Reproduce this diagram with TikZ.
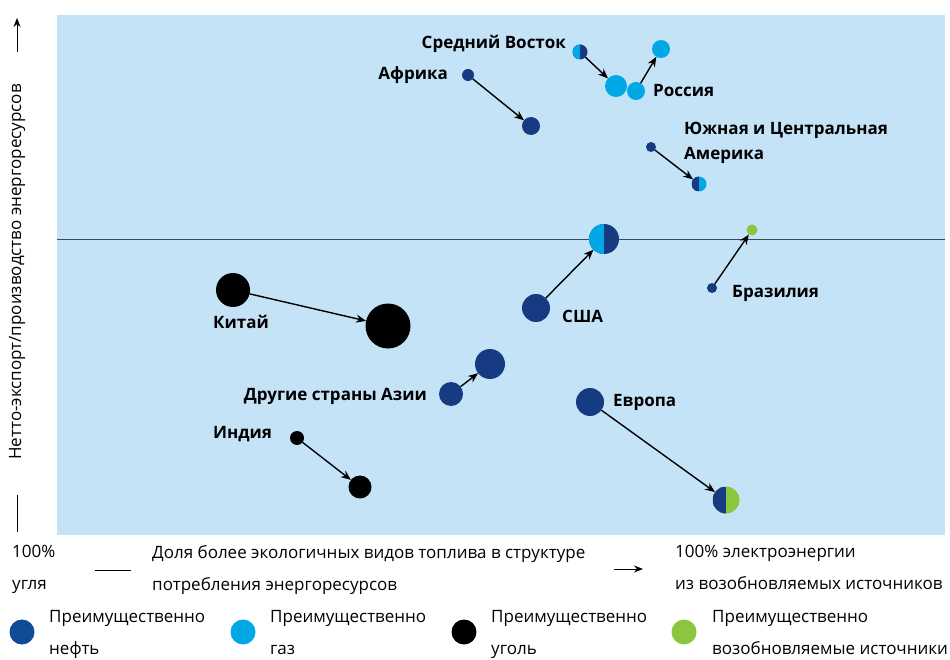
\documentclass[tikz,border=0pt]{standalone}
\usepackage{fontspec}
\setmainfont{Open Sans}
\usetikzlibrary{arrows.meta}
\definecolor{bgblue}{HTML}{C5E3F6}
\definecolor{navy}{HTML}{163B82}
\definecolor{lnavy}{HTML}{0E4C96}
\definecolor{lblue}{HTML}{00A9E6}
\definecolor{lgreen}{HTML}{8CC63F}
\definecolor{axisgray}{HTML}{3A4A5A}
\tikzset{
  dot/.style={circle, inner sep=0pt, outer sep=0pt, minimum size=#1},
  half/.style 2 args={fill=#2, path picture={\fill[#1] (path picture bounding box.north west) rectangle (path picture bounding box.south);}},
  arr/.style={-{Stealth[length=10pt,width=8pt]}, line width=1.4pt, black},
  lab/.style={font=\bfseries\fontsize{17}{20}\selectfont, text=black, inner sep=0pt},
  leg/.style={font=\fontsize{17}{32}\selectfont, text=black, inner sep=0pt, align=left},
}
\begin{document}
\begin{tikzpicture}[x=1pt,y=-1pt]
\useasboundingbox (0,0) rectangle (950,660);
\fill[bgblue] (57,15) rectangle (945,535);
\draw[axisgray, line width=0.9pt] (57,239) -- (945,239);
% y axis
\coordinate (ya1) at (17,52);
\coordinate (ya2) at (17,18);
\draw[-{Stealth[length=9pt,width=7pt]}, line width=0.9pt] (ya1) -- (ya2);
\coordinate (yb1) at (17,495);
\coordinate (yb2) at (17,532);
\draw[line width=0.9pt] (yb1) -- (yb2);
\node[leg, rotate=90, font=\fontsize{17}{20}\selectfont] (ylab) at (17,272) {Нетто-экспорт/производство энергоресурсов};
% Middle East / Russia
\node[dot=15pt, half={lblue}{navy}] (me1) at (580,52) {};
\node[dot=22pt, fill=lblue] (me2) at (616,86) {};
\node[dot=18pt, fill=lblue] (ru1) at (636,91) {};
\node[dot=18pt, fill=lblue] (ru2) at (661,49) {};
\draw[arr] (me1) -- (me2);
\draw[arr] (ru1) -- (ru2);
\node[lab, anchor=east] (meL) at (566,44) {Средний Восток};
\node[lab, anchor=west] (ruL) at (653,91) {Россия};
% Africa
\node[dot=12pt, fill=navy] (af1) at (468,75) {};
\node[dot=18pt, fill=navy] (af2) at (531,126) {};
\draw[arr] (af1) -- (af2);
\node[lab, anchor=east] (afL) at (448,75) {Африка};
% South America
\node[dot=10pt, fill=navy] (sa1) at (651,147) {};
\node[dot=15pt, half={navy}{lblue}] (sa2) at (699,184) {};
\draw[arr] (sa1) -- (sa2);
\node[lab, anchor=west, align=left, font=\bfseries\fontsize{17}{25}\selectfont] (saL) at (684,143) {Южная и Центральная\\Америка};
% USA
\node[dot=28pt, fill=navy] (us1) at (536,308) {};
\node[dot=30pt, half={lblue}{navy}] (us2) at (604,239) {};
\draw[arr] (us1) -- (us2);
\node[lab, anchor=west] (usL) at (562,316) {США};
% Brazil
\node[dot=10pt, fill=navy] (br1) at (712,288) {};
\node[dot=11pt, fill=lgreen] (br2) at (752,230) {};
\draw[arr] (br1) -- (br2);
\node[lab, anchor=west] (brL) at (732,293) {Бразилия};
% China
\node[dot=34pt, fill=black] (cn1) at (233,290) {};
\node[dot=45pt, fill=black] (cn2) at (388,326) {};
\draw[arr] (cn1) -- (cn2);
\node[lab, anchor=west] (cnL) at (213,322) {Китай};
% Other Asia
\node[dot=24pt, fill=navy] (oa1) at (451,394) {};
\node[dot=30pt, fill=navy] (oa2) at (490,364) {};
\draw[arr] (oa1) -- (oa2);
\node[lab, anchor=east] (oaL) at (427,396) {Другие страны Азии};
% India
\node[dot=14pt, fill=black] (in1) at (297,438) {};
\node[dot=23pt, fill=black] (in2) at (360,487) {};
\draw[arr] (in1) -- (in2);
\node[lab, anchor=west] (inL) at (213,434) {Индия};
% Europe
\node[dot=28pt, fill=navy] (eu1) at (590,402) {};
\node[dot=27pt, half={navy}{lgreen}] (eu2) at (726,500) {};
\draw[arr] (eu1) -- (eu2);
\node[lab, anchor=west] (euL) at (613,402) {Европа};
% bottom axis legend
\node[leg, anchor=north west] (x1) at (12,545) {100\%\\угля};
\coordinate (xl1) at (95,570);
\coordinate (xl2) at (131,570);
\draw[line width=0.9pt] (xl1) -- (xl2);
\node[leg, anchor=north west] (x2) at (152,545) {Доля более экологичных видов топлива в структуре\\потребления энергоресурсов};
\coordinate (xa1) at (614,569);
\coordinate (xa2) at (643,569);
\draw[-{Stealth[length=9pt,width=7pt]}, line width=0.9pt] (xa1) -- (xa2);
\node[leg, anchor=north west] (x3) at (675,545) {100\% электроэнергии\\из возобновляемых источников};
% fuel legend
\node[dot=25pt, fill=lnavy] (lg1) at (22,632) {};
\node[leg, anchor=north west] (lt1) at (49,610) {Преимущественно\\нефть};
\node[dot=25pt, fill=lblue] (lg2) at (243,632) {};
\node[leg, anchor=north west] (lt2) at (270,610) {Преимущественно\\газ};
\node[dot=25pt, fill=black] (lg3) at (464,632) {};
\node[leg, anchor=north west] (lt3) at (491,610) {Преимущественно\\уголь};
\node[dot=25pt, fill=lgreen] (lg4) at (684,632) {};
\node[leg, anchor=north west] (lt4) at (712,610) {Преимущественно\\возобновляемые источники};
\end{tikzpicture}
\end{document}
